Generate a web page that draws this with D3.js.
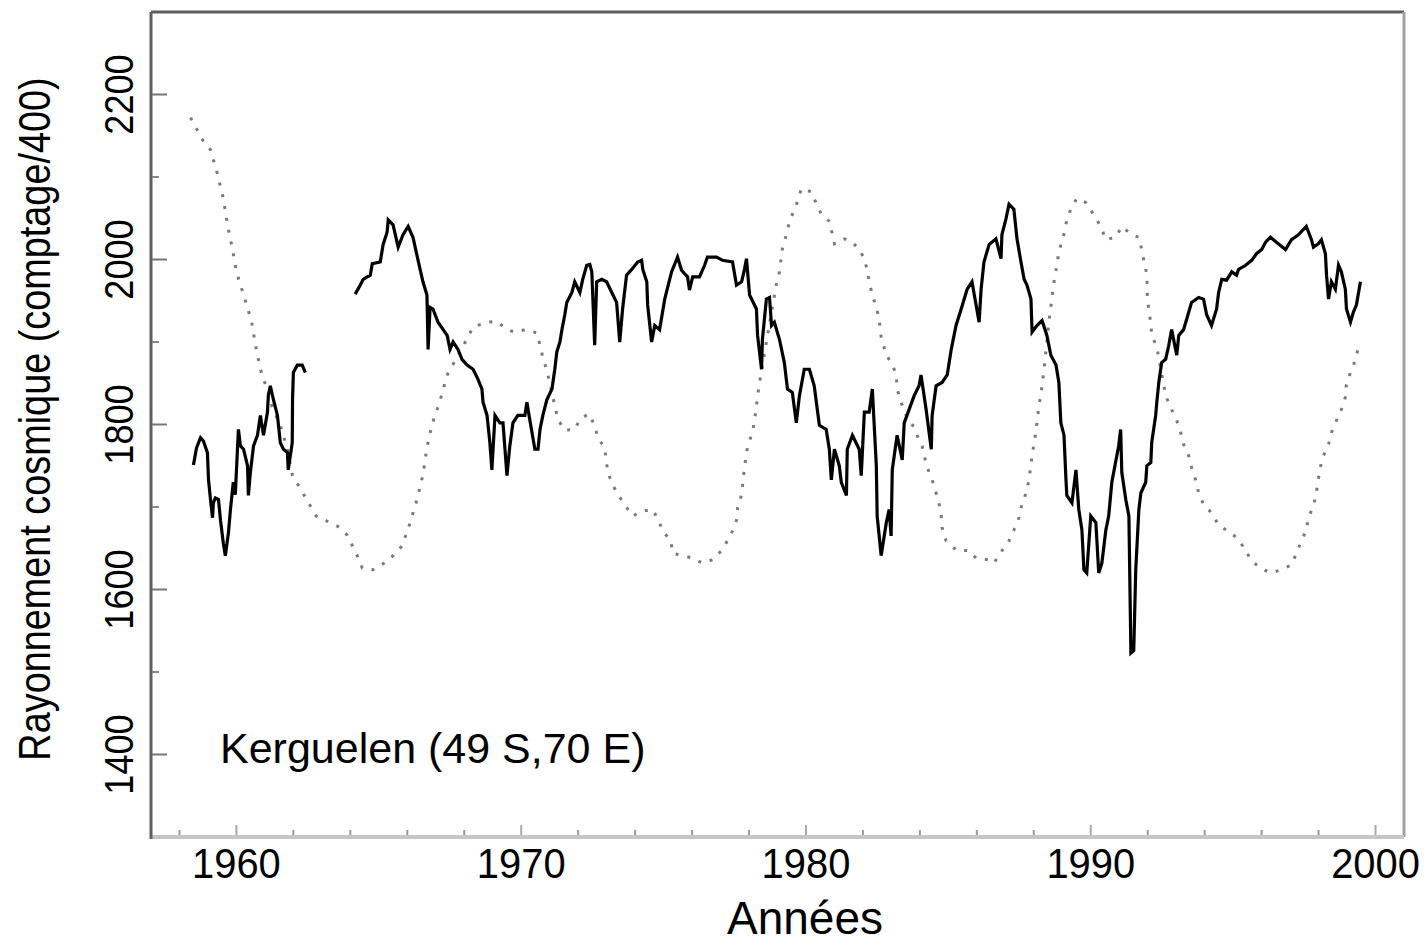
<!DOCTYPE html>
<html>
<head>
<meta charset="utf-8">
<script src="https://cdn.jsdelivr.net/npm/d3@7"></script>
<style>
  html, body { margin: 0; padding: 0; background: #fff; }
  svg { display: block; font-family: "Liberation Sans", Arial, sans-serif; }
</style>
</head>
<body>
<svg id="chart"></svg>
<script>
// Data: [year, count/400]
const kerguelenEarly = [
  [1958.49,1751],[1958.60,1772],[1958.74,1784],[1958.84,1780],[1958.98,1766],[1959.02,1733],
  [1959.09,1709],[1959.16,1687],[1959.19,1705],[1959.26,1711],[1959.37,1709],[1959.44,1684],
  [1959.54,1656],[1959.61,1641],[1959.72,1669],[1959.79,1697],[1959.89,1730],[1959.96,1715],
  [1960.07,1794],[1960.14,1774],[1960.25,1770],[1960.39,1750],[1960.42,1714],[1960.49,1742],
  [1960.60,1774],[1960.74,1787],[1960.84,1811],[1960.95,1787],[1961.09,1815],[1961.12,1835],
  [1961.19,1847],[1961.30,1830],[1961.44,1811],[1961.54,1778],[1961.65,1770],[1961.79,1766],
  [1961.82,1745],[1961.96,1778],[1961.97,1830],[1962.00,1863],[1962.14,1872],[1962.31,1872],
  [1962.42,1863]
];

const kerguelenLate = [
  [1964.17,1958],[1964.35,1969],[1964.45,1976],[1964.70,1981],[1964.77,1995],[1965.05,1997],
  [1965.15,2018],[1965.29,2033],[1965.33,2048],[1965.50,2042],[1965.68,2015],[1965.85,2030],
  [1966.03,2040],[1966.20,2027],[1966.34,2005],[1966.45,1988],[1966.55,1973],[1966.69,1957],
  [1966.73,1891],[1966.80,1942],[1966.90,1940],[1967.08,1924],[1967.26,1915],[1967.40,1908],
  [1967.50,1891],[1967.61,1900],[1967.78,1891],[1967.92,1879],[1968.10,1872],[1968.31,1867],
  [1968.48,1855],[1968.62,1843],[1968.66,1827],[1968.80,1811],[1968.90,1778],[1968.97,1745],
  [1969.08,1811],[1969.25,1802],[1969.36,1802],[1969.50,1738],[1969.60,1774],[1969.71,1802],
  [1969.88,1811],[1970.13,1811],[1970.20,1827],[1970.30,1806],[1970.48,1770],[1970.59,1770],
  [1970.66,1794],[1970.76,1811],[1970.90,1830],[1971.08,1843],[1971.18,1867],[1971.25,1888],
  [1971.36,1900],[1971.43,1915],[1971.53,1933],[1971.60,1948],[1971.78,1960],[1971.88,1973],
  [1972.06,1960],[1972.16,1976],[1972.30,1993],[1972.41,1994],[1972.48,1985],[1972.58,1896],
  [1972.65,1973],[1972.83,1976],[1973.00,1973],[1973.18,1960],[1973.35,1948],[1973.46,1900],
  [1973.56,1940],[1973.70,1981],[1973.88,1988],[1974.09,1997],[1974.23,1999],[1974.27,1988],
  [1974.41,1973],[1974.44,1945],[1974.58,1900],[1974.69,1920],[1974.86,1915],[1975.04,1952],
  [1975.28,1985],[1975.49,2003],[1975.63,1987],[1975.84,1979],[1975.91,1963],[1976.02,1979],
  [1976.26,1979],[1976.44,1993],[1976.54,2003],[1976.86,2003],[1977.07,1999],[1977.42,1997],
  [1977.56,1969],[1977.74,1973],[1977.84,1988],[1977.91,2001],[1978.02,1957],[1978.26,1940],
  [1978.30,1908],[1978.44,1867],[1978.47,1903],[1978.61,1952],[1978.72,1954],[1978.79,1920],
  [1978.89,1924],[1979.07,1903],[1979.24,1875],[1979.35,1843],[1979.52,1839],[1979.66,1802],
  [1979.77,1835],[1979.94,1867],[1980.12,1867],[1980.29,1847],[1980.47,1799],[1980.71,1794],
  [1980.82,1770],[1980.89,1733],[1981.00,1770],[1981.17,1750],[1981.24,1730],[1981.42,1714],
  [1981.45,1770],[1981.63,1787],[1981.87,1770],[1981.94,1738],[1982.05,1815],[1982.22,1815],
  [1982.33,1843],[1982.47,1750],[1982.50,1689],[1982.64,1641],[1982.82,1681],[1982.92,1697],
  [1982.99,1665],[1983.03,1745],[1983.20,1787],[1983.38,1757],[1983.45,1802],[1983.62,1818],
  [1983.80,1835],[1983.97,1847],[1984.04,1860],[1984.22,1818],[1984.40,1770],[1984.43,1811],
  [1984.57,1847],[1984.78,1851],[1984.96,1860],[1985.10,1891],[1985.27,1920],[1985.45,1940],
  [1985.66,1964],[1985.83,1973],[1986.08,1924],[1986.15,1964],[1986.25,1997],[1986.43,2018],
  [1986.67,2025],[1986.85,2001],[1986.88,2030],[1987.02,2049],[1987.13,2067],[1987.30,2061],
  [1987.41,2025],[1987.55,1997],[1987.66,1976],[1987.76,1969],[1987.90,1952],[1987.94,1912],
  [1988.11,1920],[1988.29,1926],[1988.46,1908],[1988.60,1884],[1988.78,1872],[1988.88,1851],
  [1988.95,1802],[1989.06,1787],[1989.13,1733],[1989.16,1714],[1989.34,1705],[1989.48,1745],
  [1989.58,1697],[1989.69,1672],[1989.76,1624],[1989.86,1620],[1990.00,1689],[1990.18,1681],
  [1990.28,1620],[1990.39,1632],[1990.53,1672],[1990.63,1689],[1990.74,1730],[1990.98,1774],
  [1991.05,1794],[1991.09,1742],[1991.23,1709],[1991.34,1689],[1991.41,1523],[1991.51,1526],
  [1991.58,1624],[1991.69,1697],[1991.76,1717],[1991.93,1730],[1991.97,1750],[1992.11,1754],
  [1992.14,1778],[1992.28,1811],[1992.32,1827],[1992.39,1851],[1992.49,1875],[1992.63,1879],
  [1992.74,1896],[1992.84,1915],[1993.02,1884],[1993.09,1908],[1993.26,1915],[1993.44,1936],
  [1993.54,1948],[1993.79,1954],[1993.96,1952],[1994.07,1933],[1994.24,1920],[1994.42,1940],
  [1994.49,1960],[1994.60,1976],[1994.77,1975],[1994.95,1985],[1995.12,1981],[1995.19,1988],
  [1995.44,1993],[1995.65,1999],[1995.82,2007],[1996.00,2012],[1996.14,2021],[1996.31,2027],
  [1996.52,2021],[1996.84,2012],[1997.05,2024],[1997.29,2030],[1997.57,2040],[1997.75,2024],
  [1997.82,2015],[1997.99,2019],[1998.10,2024],[1998.24,2007],[1998.28,1981],[1998.35,1952],
  [1998.45,1973],[1998.59,1964],[1998.70,1993],[1998.80,1985],[1998.94,1964],[1998.98,1940],
  [1999.12,1924],[1999.22,1936],[1999.33,1945],[1999.47,1973]
];

// Dotted curve (solar activity, scaled)
const solarCurve = [
  [1958.39,2172],[1958.81,2145],[1959.09,2133],[1959.33,2104],[1959.54,2074],[1959.68,2043],
  [1959.86,2013],[1960.00,1985],[1960.28,1954],[1960.53,1925],[1960.67,1896],[1960.84,1867],
  [1961.09,1841],[1961.26,1821],[1961.54,1799],[1961.79,1770],[1961.96,1739],[1962.38,1714],
  [1962.80,1689],[1963.54,1677],[1963.89,1666],[1964.24,1641],[1964.42,1626],[1964.80,1624],
  [1965.19,1632],[1965.50,1641],[1965.82,1653],[1966.10,1681],[1966.34,1709],[1966.55,1739],
  [1966.69,1772],[1966.87,1800],[1967.15,1829],[1967.40,1860],[1967.85,1888],[1968.31,1918],
  [1968.80,1924],[1969.15,1925],[1969.50,1915],[1969.78,1912],[1970.14,1915],[1970.55,1911],
  [1970.66,1896],[1970.76,1881],[1970.90,1866],[1971.18,1823],[1971.29,1806],[1971.53,1793],
  [1971.88,1794],[1972.06,1806],[1972.37,1813],[1972.58,1799],[1972.69,1784],[1972.93,1772],
  [1973.04,1742],[1973.21,1727],[1973.42,1714],[1973.67,1701],[1973.92,1689],[1974.23,1695],
  [1974.62,1697],[1974.83,1683],[1974.97,1671],[1975.25,1659],[1975.32,1644],[1975.67,1641],
  [1976.02,1638],[1976.37,1632],[1976.72,1636],[1977.03,1647],[1977.24,1659],[1977.42,1671],
  [1977.56,1684],[1977.60,1699],[1977.74,1715],[1977.84,1748],[1977.95,1774],[1978.12,1790],
  [1978.19,1805],[1978.26,1821],[1978.30,1835],[1978.37,1851],[1978.61,1900],[1978.96,1970],
  [1979.07,1985],[1979.17,2013],[1979.31,2030],[1979.42,2046],[1979.70,2070],[1979.84,2086],
  [1980.19,2082],[1980.37,2067],[1980.54,2055],[1980.83,2046],[1981.00,2019],[1981.35,2025],
  [1981.63,2021],[1981.87,2012],[1982.05,2001],[1982.15,1987],[1982.22,1973],[1982.33,1957],
  [1982.47,1942],[1982.57,1928],[1982.64,1906],[1982.82,1884],[1983.03,1873],[1983.17,1860],
  [1983.20,1843],[1983.34,1827],[1983.52,1811],[1983.80,1796],[1983.90,1787],[1984.08,1774],
  [1984.15,1762],[1984.26,1748],[1984.43,1733],[1984.57,1717],[1984.68,1703],[1984.75,1689],
  [1984.78,1675],[1984.92,1659],[1985.27,1648],[1985.73,1647],[1985.97,1638],[1986.43,1636],
  [1986.60,1632],[1986.88,1647],[1987.13,1659],[1987.30,1672],[1987.48,1687],[1987.58,1703],
  [1987.73,1717],[1987.83,1733],[1987.94,1762],[1988.08,1793],[1988.18,1823],[1988.25,1836],
  [1988.36,1867],[1988.53,1924],[1988.64,1954],[1988.71,1973],[1988.78,1987],[1988.88,2009],
  [1989.06,2031],[1989.16,2048],[1989.30,2061],[1989.51,2074],[1989.83,2069],[1990.11,2054],
  [1990.35,2040],[1990.53,2024],[1990.88,2027],[1991.09,2040],[1991.44,2030],[1991.69,2027],
  [1991.79,2012],[1991.86,1999],[1991.97,1982],[1991.99,1952],[1992.11,1922],[1992.14,1908],
  [1992.32,1894],[1992.63,1835],[1992.84,1818],[1993.02,1805],[1993.16,1790],[1993.26,1776],
  [1993.44,1762],[1993.54,1748],[1993.68,1733],[1993.79,1717],[1993.96,1703],[1994.24,1693],
  [1994.49,1678],[1994.77,1672],[1995.12,1663],[1995.44,1648],[1995.61,1636],[1995.96,1626],
  [1996.31,1620],[1996.70,1624],[1997.05,1630],[1997.22,1644],[1997.40,1659],[1997.57,1672],
  [1997.64,1687],[1997.82,1701],[1997.92,1717],[1997.99,1733],[1998.06,1748],[1998.17,1762],
  [1998.35,1776],[1998.45,1790],[1998.63,1805],[1998.80,1818],[1998.94,1833],[1998.97,1847],
  [1999.12,1863],[1999.29,1878],[1999.40,1894]
];

const yearTicks = [1960, 1970, 1980, 1990, 2000];
const yearMinorTicks = [1958, 1962, 1964, 1966, 1968, 1972, 1974, 1976, 1978, 1982, 1984,
                        1986, 1988, 1992, 1994, 1996, 1998];
const countTicks = [1400, 1600, 1800, 2000, 2200];
const countMinorTicks = [1500, 1700, 1900, 2100];

const stationLabel = "Kerguelen (49 S,70 E)";
const xTitle = "Années";
const yTitle = "Rayonnement cosmique (comptage/400)";

// Layout
const W = 1428, H = 946;
const margin = { top: 12, right: 24, bottom: 109, left: 151 };
const width = W - margin.left - margin.right,
      height = H - margin.top - margin.bottom;

const svg = d3.select("#chart").attr("width", W).attr("height", H);
const g = svg.append("g").attr("transform", `translate(${margin.left},${margin.top})`);

const x = d3.scaleLinear().domain([1957, 2001]).range([0, width]);
const y = d3.scaleLinear().domain([1300, 2300]).range([height, 0]);

// Frame: dark left/top, light bottom/right
g.append("line").attr("x1", 0).attr("x2", width).attr("y1", 0).attr("y2", 0)
  .attr("stroke", "#5e5e5e").attr("stroke-width", 3);
g.append("line").attr("x1", width).attr("x2", width).attr("y1", 0).attr("y2", height)
  .attr("stroke", "#a0a0a0").attr("stroke-width", 3);
g.append("line").attr("x1", 0).attr("x2", width).attr("y1", height).attr("y2", height)
  .attr("stroke", "#c6c6c6").attr("stroke-width", 4);
g.append("line").attr("x1", 0).attr("x2", 0).attr("y1", 0).attr("y2", height + 2)
  .attr("stroke", "#5e5e5e").attr("stroke-width", 3);

// Ticks (inward)
g.selectAll(".ytick").data(countTicks).enter().append("line")
  .attr("x1", 1).attr("x2", 16).attr("y1", d => y(d)).attr("y2", d => y(d))
  .attr("stroke", "#777").attr("stroke-width", 2);
g.selectAll(".ytickm").data(countMinorTicks).enter().append("line")
  .attr("x1", 1).attr("x2", 8).attr("y1", d => y(d)).attr("y2", d => y(d))
  .attr("stroke", "#888").attr("stroke-width", 2);
g.selectAll(".xtick").data(yearTicks).enter().append("line")
  .attr("x1", d => x(d)).attr("x2", d => x(d)).attr("y1", height - 2).attr("y2", height - 12)
  .attr("stroke", "#aaa").attr("stroke-width", 2);
g.selectAll(".xtickm").data(yearMinorTicks).enter().append("line")
  .attr("x1", d => x(d)).attr("x2", d => x(d)).attr("y1", height - 2).attr("y2", height - 7)
  .attr("stroke", "#999").attr("stroke-width", 2);

// Tick labels
g.selectAll(".ylab").data(countTicks).enter().append("text")
  .attr("transform", d => `translate(-18,${y(d)}) rotate(-90) scale(0.88,1)`)
  .attr("text-anchor", "middle")
  .style("font-size", "41px").attr("fill", "#000")
  .text(d => d);
g.selectAll(".xlab").data(yearTicks).enter().append("text")
  .attr("transform", d => `translate(${x(d)},${height + 41}) scale(0.95,1)`)
  .attr("text-anchor", "middle")
  .style("font-size", "42px").attr("fill", "#000")
  .text(d => d);

// Axis titles
svg.append("text")
  .attr("transform", `translate(50,419) rotate(-90) scale(0.86,1)`)
  .attr("text-anchor", "middle")
  .style("font-size", "44px")
  .text(yTitle);
svg.append("text")
  .attr("x", 805).attr("y", 934)
  .attr("text-anchor", "middle")
  .style("font-size", "46px")
  .text(xTitle);

// Station label
svg.append("text")
  .attr("x", 220).attr("y", 763)
  .style("font-size", "43px")
  .text(stationLabel);

// Lines
const line = d3.line().x(d => x(d[0])).y(d => y(d[1]));

g.append("path").datum(solarCurve)
  .attr("d", line)
  .attr("fill", "none")
  .attr("stroke", "#7a7a7a")
  .attr("stroke-width", 3)
  .attr("stroke-dasharray", "3,9");

[kerguelenEarly, kerguelenLate].forEach(seg => {
  g.append("path").datum(seg)
    .attr("d", line)
    .attr("fill", "none")
    .attr("stroke", "#000")
    .attr("stroke-width", 3.2)
    .attr("stroke-linejoin", "miter");
});
</script>
</body>
</html>
